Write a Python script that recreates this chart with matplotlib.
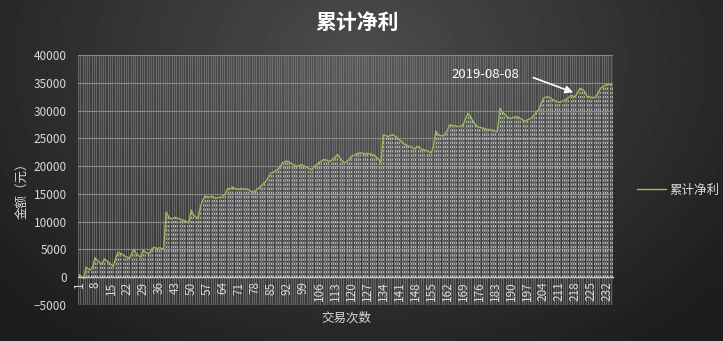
import numpy as np
import matplotlib
matplotlib.use('Agg')
import matplotlib.pyplot as plt

plt.rcParams['font.family'] = ['Noto Sans CJK SC', 'DejaVu Sans']

# cumulative net profit per trade
profit = [
    500, 100, -200, 1800, 1500, 1300, 2000, 3500, 3000, 2600,
    2300, 3300, 3000, 2600, 2300, 2000, 3500, 4500, 4300, 4100,
    3800, 3600, 3400, 4300, 5000, 4200, 3900, 3600, 4900, 4500,
    4300, 4400, 5200, 5400, 5100, 5300, 5200, 5100, 11700, 11000,
    10500, 10600, 10800, 10600, 10500, 10300, 10200, 10000, 9800, 12100,
    11200, 10800, 10600, 12600, 13800, 14600, 14500, 14400, 14600, 14300,
    14200, 14400, 14300, 14700, 15000, 16000, 15900, 16200, 16000, 15900,
    15800, 16000, 15800, 15900, 15800, 15500, 15300, 15500, 15900, 16200,
    16600, 17000, 17400, 18200, 18800, 18900, 19200, 19400, 20000, 20600,
    20800, 20900, 20700, 20400, 20200, 20000, 20000, 20300, 20100, 19900,
    19700, 19500, 19400, 20000, 20300, 20700, 20900, 21200, 21100, 20900,
    20900, 21300, 21600, 22100, 21500, 21000, 20600, 20800, 21200, 21700,
    21900, 22100, 22300, 22400, 22300, 22200, 22300, 22200, 22100, 22000,
    21600, 21200, 20600, 25600, 25500, 25300, 25500, 25700, 25400, 25200,
    24800, 24400, 24000, 23800, 23600, 23500, 23300, 23100, 23600, 23300,
    23000, 22900, 22800, 22600, 22400, 23500, 26300, 25700, 25500, 25400,
    25800, 26300, 27400, 27300, 27300, 27200, 27100, 27200, 27500, 28500,
    29500, 29000, 28300, 27600, 27200, 27000, 26900, 26800, 26600, 26600,
    26500, 26500, 26300, 26200, 30400, 29800, 29400, 28900, 28700, 28600,
    28800, 28900, 28800, 28600, 28300, 28000, 28300, 28500, 28700, 29200,
    29800, 30200, 31200, 32200, 32400, 32500, 32300, 32000, 31800, 31600,
    31500, 31600, 31800, 32000, 32300, 32700, 32600, 32500, 33200, 34000,
    33800, 33500, 32600, 32500, 32400, 32300, 32500, 33200, 34000, 34300,
    34500, 34800, 34700, 34600,
]
trades = list(range(1, len(profit) + 1))
xtick_labels = trades[::7]
yticks = [-5000, 0, 5000, 10000, 15000, 20000, 25000, 30000, 35000, 40000]

note_text = '2019-08-08'
note_from = (198.5, 36100)
note_to = (218.2, 33100)

fig = plt.figure(figsize=(7.23, 3.41), dpi=100)

# dark radial background
bg = fig.add_axes([0, 0, 1, 1], zorder=-10)
yy, xx = np.mgrid[0:341, 0:723]
r = np.sqrt(((xx - 360) / 560.0) ** 2 + ((yy - 60) / 420.0) ** 2)
shade = np.clip(0.30 - 0.22 * r, 0.11, 0.30)
bg.imshow(shade, cmap='gray', vmin=0, vmax=1, aspect='auto')
bg.axis('off')

ax = fig.add_axes([78 / 723, 1 - 305 / 341, (613 - 78) / 723, (305 - 55) / 341])
ax.set_facecolor((1, 1, 1, 0.07))

n = len(trades)
ax.set_xlim(0.5, n + 0.5)
ax.set_ylim(-5000, 40000)

# category gridlines
ax.vlines(np.arange(0.5, n + 1), -5000, 40000, colors='#777777', lw=0.5, zorder=1)
for v in yticks:
    ax.axhline(v, color='#8a8a8a', lw=0.8, zorder=1.5)

# drop lines and the series
ax.vlines(trades, 0, profit, colors='#c4c4c4', lw=0.6, linestyles=(0, (3, 2)), zorder=2)
ax.plot(trades, profit, color='#9bbb59', lw=1.0, zorder=3, label='累计净利')

for s in ['top', 'right', 'left']:
    ax.spines[s].set_visible(False)
ax.spines['bottom'].set_position(('data', 0))
ax.spines['bottom'].set_color('#c8c8c8')
ax.spines['bottom'].set_linewidth(1)
ax.spines['bottom'].set_zorder(4)

ax.set_xticks(xtick_labels)
ax.set_xticklabels([str(t) for t in xtick_labels], rotation=90)
ax.set_yticks(yticks)
ax.tick_params(axis='both', length=0, colors='#d9d9d9', labelsize=8.5)
ax.tick_params(axis='x', pad=3)
ax.tick_params(axis='y', pad=8)

ax.text(178.5, 36400, note_text, color='white', fontsize=9.5, ha='center', va='center')
ax.annotate('', xy=note_to, xytext=note_from,
            arrowprops=dict(arrowstyle='-|>', color='white', lw=1.2, mutation_scale=11))

fig.text(0.494, 0.935, '累计净利', color='white', fontsize=15, fontweight='bold',
         ha='center', va='center')
fig.text(346 / 723, 1 - 318 / 341, '交易次数', color='#d9d9d9', fontsize=9,
         ha='center', va='center')
fig.text(22 / 723, 1 - 188 / 341, '金额（元）', color='#d9d9d9', fontsize=9,
         ha='center', va='center', rotation=90)

leg = fig.legend(loc='center left', bbox_to_anchor=(626 / 723, 1 - 190 / 341),
                 frameon=False, fontsize=9, handlelength=2.3, handletextpad=0.3)
for t in leg.get_texts():
    t.set_color('#d9d9d9')

fig.savefig('out.png', dpi=100)
